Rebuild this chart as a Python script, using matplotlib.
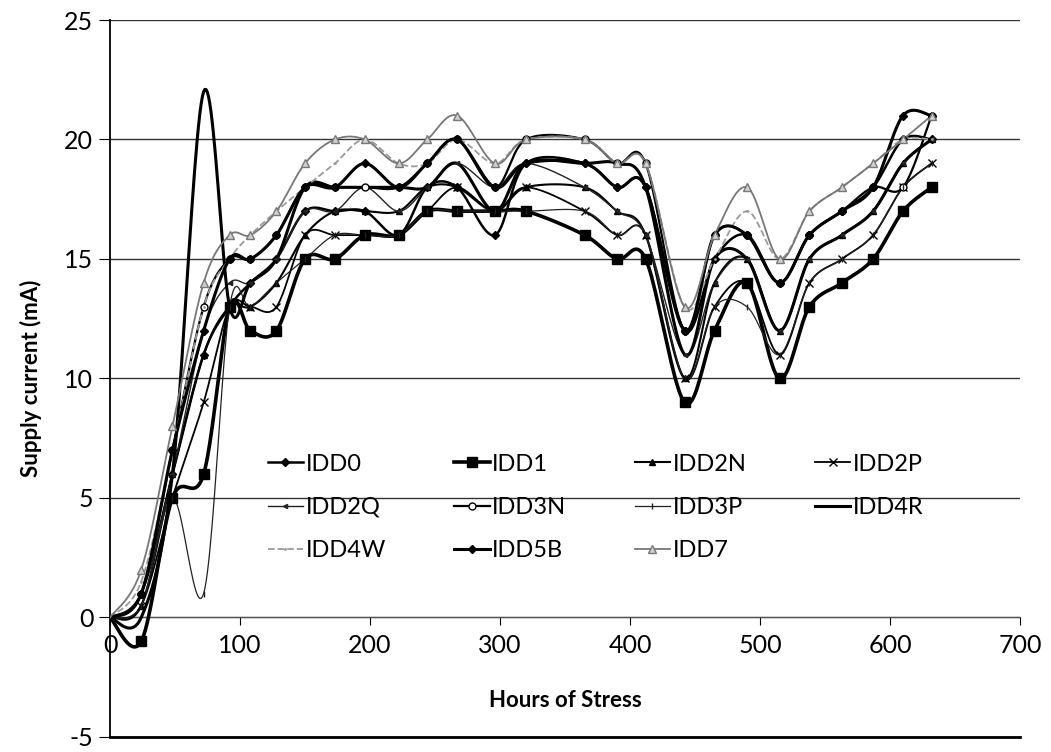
import numpy as np
import matplotlib
matplotlib.use("Agg")
import matplotlib.pyplot as plt
from matplotlib.lines import Line2D

plt.rcParams["font.family"] = ["Lato", "DejaVu Sans"]
plt.rcParams["axes.unicode_minus"] = False

# hours of stress at each reading
hours = [0, 24, 48, 72, 92, 108, 128, 150, 173, 196, 222, 244, 267, 296,
         320, 365, 390, 412, 442, 465, 490, 515, 538, 563, 587, 610, 632]

idd0 = [0, 1, 6, 11, 13, 14, 15, 17, 17, 17, 16, 18, 18, 16, 19, 19, 18, 18, 12, 15, 16, 14, 16, 17, 18, 20, 20]
idd1 = [0, -1, 5, 6, 13, 12, 12, 15, 15, 16, 16, 17, 17, 17, 17, 16, 15, 15, 9, 12, 14, 10, 13, 14, 15, 17, 18]
idd2n = [0, 0.5, 6, 11, 13, 13, 14, 16, 17, 17, 17, 18, 18, 17, 18, 18, 17, 16, 10, 14, 15, 12, 15, 16, 17, 19, 20]
idd2p = [0, 0.5, 5, 9, 13, 13, 13, 16, 16, 16, 16, 17, 18, 17, 18, 17, 16, 16, 10, 13, 14, 11, 14, 15, 16, 18, 19]
idd2q = [0, 1, 6, 12, 14, 14, 15, 17, 17, 18, 17, 18, 19, 18, 19, 18, 17, 16, 11, 14, 15, 12, 15, 16, 17, 19, 20]
idd3n = [0, 1, 7, 13, 15, 15, 16, 18, 18, 18, 18, 19, 20, 18, 20, 20, 19, 19, 12, 16, 16, 14, 16, 17, 18, 18, 21]
idd3p = [0, 0.5, 5, 1, 13, 13, 14, 15, 16, 16, 16, 17, 17, 17, 17, 17, 16, 16, 10, 13, 13, 11, 14, 15, 16, 18, 19]
idd4r = [0, 0, 6, 22, 13, 14, 15, 18, 18, 18, 18, 18, 19, 17, 19, 19, 19, 18, 11, 15, 15, 12, 15, 16, 17, 19, 20]
idd4w = [0, 1.5, 7, 13, 15, 16, 17, 18, 19, 20, 19, 19, 20, 19, 20, 20, 19, 19, 13, 15, 17, 15, 17, 18, 19, 20, 20]
idd5b = [0, 1, 7, 12, 15, 15, 16, 18, 18, 19, 18, 19, 20, 18, 19, 19, 18, 18, 12, 16, 16, 14, 16, 17, 18, 21, 21]
idd7 = [0, 2, 8, 14, 16, 16, 17, 19, 20, 20, 19, 20, 21, 19, 20, 20, 19, 19, 13, 16, 18, 15, 17, 18, 19, 20, 21]

names = ["IDD0", "IDD1", "IDD2N", "IDD2P", "IDD2Q", "IDD3N",
         "IDD3P", "IDD4R", "IDD4W", "IDD5B", "IDD7"]
values = [idd0, idd1, idd2n, idd2p, idd2q, idd3n, idd3p, idd4r, idd4w, idd5b, idd7]

styles = {
    "IDD0": dict(color="black", lw=1.8, marker="D", ms=4, mfc="black"),
    "IDD1": dict(color="black", lw=2.6, marker="s", ms=7, mfc="black"),
    "IDD2N": dict(color="black", lw=1.5, marker="^", ms=5, mfc="black"),
    "IDD2P": dict(color="black", lw=1.3, marker="x", ms=6, mfc="black"),
    "IDD2Q": dict(color="#222222", lw=1.0, marker="<", ms=3, mfc="#222222"),
    "IDD3N": dict(color="black", lw=1.6, marker="o", ms=5, mfc="white"),
    "IDD3P": dict(color="#222222", lw=0.9, marker="|", ms=5, mfc="#222222"),
    "IDD4R": dict(color="black", lw=2.2, marker=None, ms=0, mfc="black"),
    "IDD4W": dict(color="#9a9a9a", lw=1.3, marker=".", ms=2, mfc="#9a9a9a", ls="--"),
    "IDD5B": dict(color="black", lw=2.2, marker="D", ms=4.5, mfc="black"),
    "IDD7": dict(color="#777777", lw=1.3, marker="^", ms=6, mfc="#d0d0d0"),
}


def smooth(xs, ys, n=24):
    # Excel-like smoothed line: Bezier segments with Catmull-Rom tangents
    p = np.column_stack([xs, ys]).astype(float)
    out = []
    t = np.linspace(0, 1, n)[:, None]
    for i in range(len(p) - 1):
        p0 = p[i - 1] if i > 0 else p[i]
        p3 = p[i + 2] if i + 2 < len(p) else p[i + 1]
        c1 = p[i] + (p[i + 1] - p0) / 6
        c2 = p[i + 1] - (p3 - p[i]) / 6
        seg = ((1 - t) ** 3 * p[i] + 3 * (1 - t) ** 2 * t * c1
               + 3 * (1 - t) * t ** 2 * c2 + t ** 3 * p[i + 1])
        out.append(seg if i == 0 else seg[1:])
    return np.vstack(out)


fig = plt.figure(figsize=(10.51, 7.52), dpi=100)
ax = fig.add_axes([0.1047, 0.02, 0.8658, 0.9534])

handles = {}
for name, vals in zip(names, values):
    st = styles[name]
    curve = smooth(hours, vals)
    ax.plot(curve[:, 0], curve[:, 1], color=st["color"], lw=st["lw"],
            ls=st.get("ls", "-"), zorder=3)
    if st["marker"]:
        ax.plot(hours[1:], vals[1:], ls="none", marker=st["marker"], ms=st["ms"],
                mfc=st["mfc"], mec=st["color"], mew=1.0, zorder=4)
    handles[name] = Line2D([], [], color=st["color"], lw=st["lw"], ls=st.get("ls", "-"),
                           marker=st["marker"], ms=st["ms"], mfc=st["mfc"],
                           mec=st["color"])

ax.set_xlim(0, 700)
ax.set_ylim(-5, 25)
ax.set_xticks(range(0, 701, 100))
ax.set_yticks(range(-5, 26, 5))
ax.tick_params(axis="both", labelsize=18)
ax.tick_params(axis="x", direction="out", length=6, pad=6)
ax.tick_params(axis="y", direction="out", length=8, pad=4)

ax.spines["top"].set_visible(False)
ax.spines["right"].set_visible(False)
ax.spines["bottom"].set_position(("data", 0))
ax.spines["bottom"].set_color("#555555")
ax.spines["left"].set_linewidth(1.3)
ax.yaxis.grid(True, color="#333333", lw=1.0, zorder=0)
ax.set_axisbelow(True)
# bottom gridline sits on the axes edge, draw it unclipped so it shows
ax.plot([0, 700], [-5, -5], color="black", lw=2.0, clip_on=False, zorder=5)

ax.set_xlabel("Hours of Stress", fontsize=16, fontweight="bold", labelpad=24)
ax.set_ylabel("Supply current (mA)", fontsize=16, fontweight="bold", labelpad=16)

# legend laid out row by row like the original (4 columns)
order = ["IDD0", "IDD2Q", "IDD4W", "IDD1", "IDD3N", "IDD5B",
         "IDD2N", "IDD3P", "IDD7", "IDD2P", "IDD4R"]
ax.legend([handles[k] for k in order], order, ncol=4, frameon=False,
          fontsize=17, handlelength=1.5, handletextpad=0.1, columnspacing=2.9,
          labelspacing=0.95, loc="upper left", bbox_to_anchor=(0.15, 0.425))

fig.savefig("out.png", dpi=100)
